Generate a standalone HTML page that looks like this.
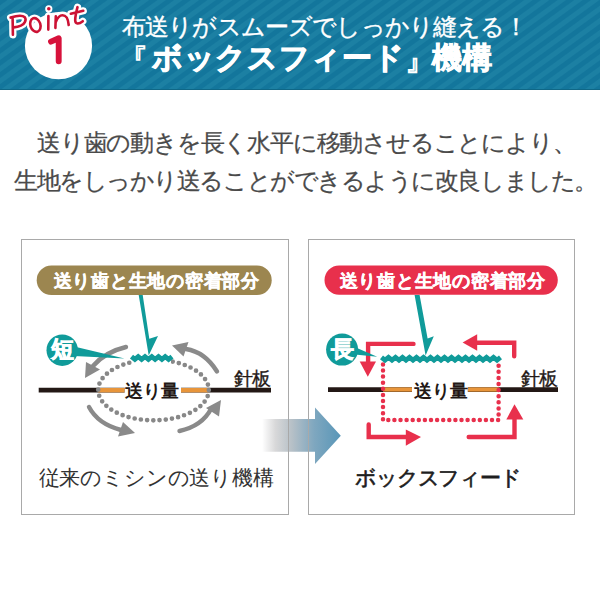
<!DOCTYPE html>
<html lang="ja">
<head>
<meta charset="utf-8">
<style>
html,body{margin:0;padding:0;background:#fff;}
body{width:600px;height:600px;position:relative;overflow:hidden;font-family:"Liberation Sans",sans-serif;}
.abs{position:absolute;white-space:nowrap;line-height:1;}
#hdr{position:absolute;left:0;top:0;width:600px;height:89px;
 background:repeating-linear-gradient(144deg,#13769c 0px,#13769c 3.9px,#1c80a3 4.9px,#1c80a3 8.8px,#13769c 9.8px);
 border-bottom:1px solid #0f6786;}
.h1{color:#fff;font-size:24px;left:122px;top:15px;letter-spacing:-0.85px;-webkit-text-stroke:0.35px #fff;}
.h2{color:#fff;font-size:30px;font-weight:bold;left:122px;top:43px;-webkit-text-stroke:0.9px #fff;}
.body1{color:#4a4a4a;font-size:24px;letter-spacing:-1.2px;-webkit-text-stroke:0.25px #4a4a4a;}
.pill{color:#fff;font-size:18px;font-weight:bold;letter-spacing:0.75px;-webkit-text-stroke:0.4px #fff;}
.lbl{font-size:21px;color:#333;}
.ryo{font-size:18px;font-weight:bold;color:#231815;}
.hb{font-size:18.5px;color:#231815;letter-spacing:-0.6px;-webkit-text-stroke:0.35px #231815;}
.circ{color:#fff;font-size:23px;font-weight:bold;-webkit-text-stroke:0.7px #fff;}
svg{position:absolute;left:0;top:0;}
</style>
</head>
<body>
<div id="hdr"></div>
<svg width="600" height="600" viewBox="0 0 600 600">
  <!-- badge -->
  <circle cx="58.5" cy="45.7" r="33.6" fill="#fff"/>
  <path d="M51,41.6 L58.7,38.3 L58.7,61.2" fill="none" stroke="#d7123b" stroke-width="5.9" stroke-linecap="round" stroke-linejoin="round"/>
  <g fill="none" stroke-linecap="round" stroke-linejoin="round">
    <g stroke="#fff" stroke-width="7.2">
      <path d="M12.6,17.8 L12.9,34.8 M10.6,17.6 C16,15.8 22,14.6 24.8,17.2 C27,20 24,24.6 21,25.6 C18.5,26.6 15.5,27.2 13.8,27.4"/>
      <ellipse cx="35.4" cy="25" rx="5" ry="7" transform="rotate(-18 35.4 25)"/>
      <path d="M48.4,16 L48.3,29.6 M48.8,8.8 L48.8,8.9"/>
      <path d="M55.8,16.3 L55.4,27.9 M55.8,22 C57.5,17.5 60,15.2 62.5,15.2 C66.5,15.2 68,18 68.7,25"/>
      <path d="M77.5,7.2 C76.2,12 75.2,17.5 75.2,20.5 C75.4,24 78.5,24.6 82.8,21.2 M70.8,13.8 L83.3,10.8"/>
    </g>
    <g stroke="#cc1234" stroke-width="2.6">
      <path d="M12.6,17.8 L12.9,34.8 M10.6,17.6 C16,15.8 22,14.6 24.8,17.2 C27,20 24,24.6 21,25.6 C18.5,26.6 15.5,27.2 13.8,27.4"/>
      <ellipse cx="35.4" cy="25" rx="5" ry="7" transform="rotate(-18 35.4 25)"/>
      <path d="M48.4,16 L48.3,29.6"/>
      <path d="M55.8,16.3 L55.4,27.9 M55.8,22 C57.5,17.5 60,15.2 62.5,15.2 C66.5,15.2 68,18 68.7,25"/>
      <path d="M77.5,7.2 C76.2,12 75.2,17.5 75.2,20.5 C75.4,24 78.5,24.6 82.8,21.2 M70.8,13.8 L83.3,10.8"/>
    </g>
    <circle cx="48.8" cy="8.8" r="1.8" fill="#cc1234" stroke="none"/>
  </g>

  <!-- blue arrow -->
  <defs>
    <linearGradient id="ba" x1="262" y1="0" x2="341" y2="0" gradientUnits="userSpaceOnUse">
      <stop offset="0" stop-color="#ffffff"/>
      <stop offset="0.17" stop-color="#d8d8d9"/>
      <stop offset="0.38" stop-color="#b6c0c7"/>
      <stop offset="0.66" stop-color="#7fa7bf"/>
      <stop offset="1" stop-color="#5896b8"/>
    </linearGradient>
  </defs>
  <polygon points="262.5,419 315,419 315,407.5 340.8,435.8 315,464 315,451.7 262.5,451.7" fill="url(#ba)"/>

  <!-- panels -->
  <rect x="21.5" y="239.5" width="267" height="275" fill="none" stroke="#a9a9a9" stroke-width="1"/>
  <rect x="308.5" y="239.5" width="266" height="275" fill="none" stroke="#a9a9a9" stroke-width="1"/>

  <!-- LEFT PANEL -->
  <rect x="36.7" y="265.5" width="235" height="29.5" rx="14.75" fill="#9c8650"/>
  <!-- needle plate line -->
  <line x1="38.7" y1="390.1" x2="271" y2="390.1" stroke="#231815" stroke-width="4.8"/>
  <line x1="98" y1="390.2" x2="124.7" y2="390.2" stroke="#e8953a" stroke-width="4.4"/>
  <line x1="181" y1="390.2" x2="208.5" y2="390.2" stroke="#e8953a" stroke-width="4.4"/>
  <rect x="124.7" y="380" width="56.3" height="22" fill="#fff"/>
  <!-- dotted ellipse -->
  <ellipse cx="153.5" cy="390" rx="55.3" ry="30.3" fill="none" stroke="#888" stroke-width="4.7" stroke-linecap="round" stroke-dasharray="0 6.25"/>
  <!-- gray arrows -->
  <g fill="none" stroke="#8a8a8a" stroke-width="4.4" stroke-linecap="round">
    <path d="M126,347 Q105,352 93,366"/>
    <path d="M217,371.5 Q205,352 186,349"/>
    <path d="M89,407 Q98,424 121,430"/>
    <path d="M179.5,431 Q202,426 211,409"/>
  </g>
  <g fill="#8a8a8a">
    <polygon points="85,378 86,362 100,369.5"/>
    <polygon points="172,345.5 188.5,342 183.5,356.5"/>
    <polygon points="123,422 135,433 118,436.5"/>
    <polygon points="206,408 221,400 219,416.5"/>
  </g>
  <!-- teal -->
  <rect x="133" y="356" width="38" height="8" fill="#fff"/>
  <g fill="#109b9a">
    <circle cx="62.2" cy="350.2" r="15.7"/>
    <polygon points="74,346.5 124.5,358.4 74,356"/>
    <polygon points="138.7,295 142.7,295 149.3,338.7 158,336 148.7,355.5"/>
  </g>
  <polyline points="131.5,356.6 134.9,359.4 138.2,356.6 141.6,359.4 145.0,356.6 148.4,359.4 151.8,356.6 155.1,359.4 158.5,356.6 161.9,359.4 165.2,356.6 168.6,359.4 172.0,356.6" fill="none" stroke="#109b9a" stroke-width="4.8" stroke-linejoin="miter" stroke-miterlimit="10"/>

  <!-- RIGHT PANEL -->
  <rect x="324.5" y="265.5" width="233.3" height="29.2" rx="14.6" fill="#e8304c"/>
  <line x1="328" y1="389.6" x2="558" y2="389.6" stroke="#231815" stroke-width="4.8"/>
  <line x1="383" y1="389.5" x2="412" y2="389.5" stroke="#e8953a" stroke-width="4.3"/>
  <line x1="467.8" y1="389.5" x2="498.7" y2="389.5" stroke="#e8953a" stroke-width="4.3"/>
  <rect x="412" y="380" width="55.8" height="22" fill="#fff"/>
  <path d="M383,364.4 L383,420.1 L498.6,420.1 L498.6,364.4" fill="none" stroke="#e8304c" stroke-width="4.5" stroke-linecap="round" stroke-dasharray="0 6.1"/>
  <g fill="none" stroke="#e8304c" stroke-width="4.4" stroke-linejoin="miter">
    <path d="M413.5,343.9 L368.1,343.9 L368.1,362" stroke-linecap="round"/>
    <path d="M477,342.8 L514.2,342.8 L514.2,356.3" stroke-linecap="round"/>
    <path d="M368.7,424.4 L368.7,437 L406,437" stroke-linecap="round"/>
    <path d="M468.7,437 L514.5,437 L514.5,419" stroke-linecap="round"/>
  </g>
  <g fill="#e8304c">
    <polygon points="359.7,361.5 376,361.5 367.8,376.7"/>
    <polygon points="462.6,342.5 477.2,334.3 477.2,350.7"/>
    <polygon points="405.8,429.4 421,437 405.8,445.8"/>
    <polygon points="506.3,419.5 523.3,419.5 514.5,404.3"/>
  </g>
  <g fill="#109b9a">
    <circle cx="342.1" cy="349.6" r="16"/>
    <polygon points="350,345 377.2,356.8 350,354"/>
    <polygon points="414.6,295 419.6,295 427.6,338.5 433.8,336.3 425.6,355.5"/>
  </g>
  <polyline points="381.5,357.3 385.0,360.1 388.5,357.3 392.0,360.1 395.5,357.3 399.0,360.1 402.5,357.3 406.0,360.1 409.5,357.3 413.0,360.1 416.5,357.3 420.0,360.1 423.5,357.3 427.0,360.1 430.5,357.3 434.0,360.1 437.5,357.3 441.0,360.1 444.5,357.3 448.0,360.1 451.5,357.3 455.0,360.1 458.5,357.3 462.0,360.1 465.5,357.3 469.0,360.1 472.5,357.3 476.0,360.1 479.5,357.3 483.0,360.1 486.5,357.3 490.0,360.1 493.5,357.3 497.0,360.1 500.5,357.3" fill="none" stroke="#109b9a" stroke-width="4.8" stroke-linejoin="miter" stroke-miterlimit="10"/>
</svg>

<div class="abs h1">布送りがスムーズでしっかり縫える！</div>
<div class="abs h2"><span style="position:relative;left:-4px;top:2px;-webkit-text-stroke:0;">『</span><span style="letter-spacing:0.7px">ボックスフィード</span><span style="position:relative;top:2px;-webkit-text-stroke:0;">』</span><span style="margin-left:-2.5px">機構</span></div>

<div class="abs body1" style="left:37px;top:131px;">送り歯の動きを長く水平に移動させることにより、</div>
<div class="abs body1" style="left:14px;top:169px;letter-spacing:-1.45px;">生地をしっかり送ることができるように改良しました。</div>

<div class="abs pill" style="left:53.5px;top:272px;">送り歯と生地の密着部分</div>
<div class="abs pill" style="left:339.5px;top:272px;">送り歯と生地の密着部分</div>

<div class="abs circ" style="left:50.5px;top:337.5px;">短</div>
<div class="abs circ" style="left:331px;top:337.5px;">長</div>

<div class="abs ryo" style="left:125px;top:382px;">送り量</div>
<div class="abs ryo" style="left:414px;top:382px;">送り量</div>
<div class="abs hb" style="left:233.5px;top:369.5px;">針板</div>
<div class="abs hb" style="left:520.5px;top:369.5px;">針板</div>

<div class="abs lbl" style="left:38.5px;top:467px;letter-spacing:-0.15px;">従来のミシンの送り機構</div>
<div class="abs lbl" style="left:355px;top:466.5px;color:#1e1e1e;letter-spacing:-1.15px;-webkit-text-stroke:0.65px #1e1e1e;">ボックスフィード</div>
</body>
</html>
